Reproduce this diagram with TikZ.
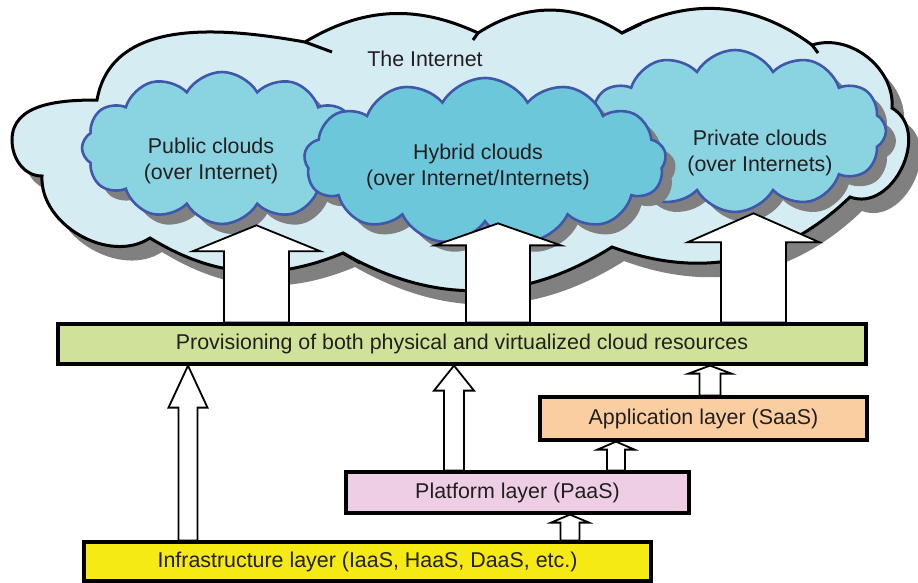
\documentclass[tikz,border=0pt]{standalone}
\usepackage{fontspec}
\setmainfont{Liberation Sans}
\usetikzlibrary{shapes.symbols,shadows,calc,backgrounds}
\definecolor{skyback}{RGB}{213,236,243}
\definecolor{cloudfill}{RGB}{138,211,225}
\definecolor{hybridfill}{RGB}{109,199,219}
\definecolor{cloudline}{RGB}{64,88,170}
\definecolor{shadowgray}{RGB}{128,128,128}
\definecolor{provgreen}{RGB}{208,226,154}
\definecolor{apporange}{RGB}{250,206,160}
\definecolor{platpink}{RGB}{238,206,228}
\definecolor{infrayellow}{RGB}{245,234,20}
\definecolor{inktext}{RGB}{35,31,32}
\tikzset{layerbox/.style={draw=black,line width=3.2pt,inner sep=0pt,text=inktext},
 bigcloud/.style={draw=black,fill=skyback,line width=3pt,
   drop shadow={shadow xshift=12pt,shadow yshift=-14pt,fill=shadowgray,opacity=1}},
 crease/.style={draw=black,line width=3pt},
 subcloud/.style={cloud,cloud puffs=12,cloud puff arc=120,cloud ignores aspect,
   draw=cloudline,line width=2.6pt,fill=cloudfill,inner sep=0pt,
   drop shadow={shadow xshift=10pt,shadow yshift=-10pt,fill=shadowgray,opacity=1}},
 cloudtext/.style={text=inktext,align=center},
 blockline/.style={draw=black,line width=1.8pt,fill=white,line join=miter},
 }
% lower node, upper anchor, x coordinate, half shaft, half head, head length
\newcommand{\blockarrow}[6]{%
  \path (#1.north -| #3) coordinate (foot) (#2 -| #3) coordinate (tip);
  \draw[blockline] ($(foot)+(-#4,0)$) -- ($(tip)+(-#4,#6)$) -- ($(tip)+(-#5,#6)$) -- (tip)
    -- ($(tip)+(#5,#6)$) -- ($(tip)+(#4,#6)$) -- ($(foot)+(#4,0)$) -- cycle;}

\begin{document}
\begin{tikzpicture}[x=1pt,y=-1pt,font=\fontsize{21.4}{25.5}\selectfont]
\useasboundingbox (0,0) rectangle (918,582);
% layers
\node[layerbox,fill=provgreen,minimum width=808,minimum height=40] (prov) at (462,344)
  {Provisioning of both physical and virtualized cloud resources};
\node[layerbox,fill=apporange,minimum width=327,minimum height=43] (app) at (703.5,418.5)
  {Application layer (SaaS)};
\node[layerbox,fill=platpink,minimum width=343,minimum height=41] (plat) at (517.5,492.5)
  {Platform layer (PaaS)};
\node[layerbox,fill=infrayellow,minimum width=567,minimum height=39] (infra) at (367.5,561.5)
  {Infrastructure layer (IaaS, HaaS, DaaS, etc.)};
\foreach \n/\x in {ai/188,ap/454,aa/710,pi/570,pp/616,cpub/256.5,chyb/498,cpriv/753.5}
  \coordinate (\n) at (\x,0);

\begin{scope}[on background layer]
% the internet
\filldraw[bigcloud] (97,100) to[out=80,in=170] (305,42)
  to[bend left=28] (478,33) to[bend left=33] (622,33) to[bend left=33] (812,45)
  to[bend left=56] (892,108) to[bend left=85,looseness=1.2] (850,197)
  to[bend left=32] (612,247) to[bend left=31] (343,253) to[bend left=27] (150,238)
  to[bend left=63] (42,176) to[out=180,in=270] (12,140) to[out=90,in=180] (97,100) -- cycle;
\draw[crease] (305,42) -- (332,52) (478,33) -- (473,40) (622,33) -- (641,24)
  (812,45) -- (818,53) (343,253) -- (360,263);
% clouds
\node[subcloud,minimum width=280,minimum height=152] (public) at (222,148) {};
\node[subcloud,minimum width=302,minimum height=162] (private) at (735,131) {};
\node[subcloud,cloud puffs=13,fill=hybridfill,minimum width=362,minimum height=166] (hybrid) at (485,161) {};
\node[cloudtext] (nettext) at (425,59) {The Internet};
\node[cloudtext] (pubtext) at (211,161) {Public clouds\\(over Internet)};
\node[cloudtext] (hybtext) at (478,167) {Hybrid clouds\\(over Internet/Internets)};
\node[cloudtext] (privtext) at (760,153) {Private clouds\\(over Internets)};
% arrows
\blockarrow{infra}{prov.south}{ai}{9.5}{19.5}{42}
\blockarrow{plat}{prov.south}{ap}{10}{20}{25}
\blockarrow{app}{prov.south}{aa}{10.5}{21.5}{8}
\blockarrow{infra}{plat.south}{pi}{9.5}{19}{8}
\blockarrow{plat}{app.south}{pp}{9}{18.5}{8}
\blockarrow{prov}{public.south}{cpub}{32.5}{64}{26}
\blockarrow{prov}{hybrid.south}{chyb}{32}{63}{22}
\blockarrow{prov}{private.south}{cpriv}{32.5}{66}{29}
\end{scope}
\end{tikzpicture}
\end{document}
